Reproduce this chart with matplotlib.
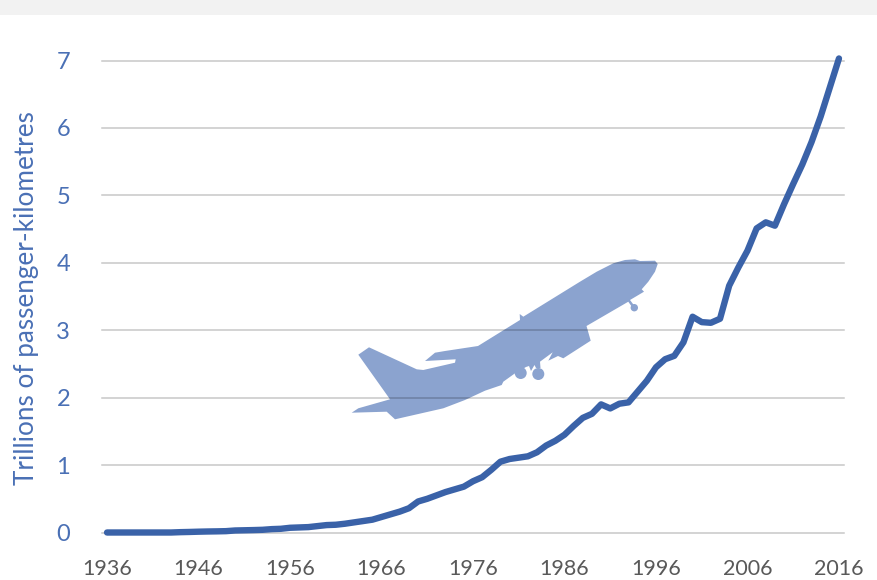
import matplotlib
matplotlib.use("Agg")
import matplotlib.pyplot as plt
from matplotlib.patches import Polygon, Circle, Rectangle

# Passenger-kilometres, trillions
years = list(range(1936, 2017))
values = [
    0.00, 0.00, 0.00, 0.00, 0.00, 0.00, 0.00, 0.00, 0.005, 0.008,
    0.012, 0.015, 0.017, 0.02, 0.03, 0.033, 0.036, 0.04, 0.05, 0.055,
    0.07, 0.075, 0.08, 0.095, 0.11, 0.115, 0.13, 0.15, 0.17, 0.19,
    0.23, 0.27, 0.31, 0.36, 0.46, 0.50, 0.55, 0.60, 0.64, 0.68,
    0.76, 0.82, 0.93, 1.05, 1.09, 1.11, 1.13, 1.19, 1.29, 1.36,
    1.45, 1.58, 1.70, 1.76, 1.90, 1.84, 1.91, 1.93, 2.09, 2.25,
    2.45, 2.57, 2.62, 2.82, 3.20, 3.12, 3.11, 3.17, 3.66, 3.93,
    4.18, 4.51, 4.60, 4.55, 4.87, 5.17, 5.46, 5.79, 6.17, 6.60, 7.03,
]
y_ticks = [0, 1, 2, 3, 4, 5, 6, 7]
x_ticks = list(range(1936, 2017, 10))

# Aeroplane outline in figure pixels (decoration, not data)
plane_outline = [
    (358.3, 354.7), (369, 347.3), (416.7, 369.3), (423.3, 370), (455, 362.7),
    (455.7, 359.3), (425, 361), (435, 352.7), (445, 351), (478, 346),
    (520, 320), (519.7, 314), (523.3, 316.7), (580, 281.7), (596.7, 271.7),
    (613.3, 263.3), (625, 260), (635, 259.3), (640, 261), (655, 260.7),
    (657.7, 264), (655, 271.7), (648.3, 281.7), (641.7, 289.3), (644, 291.7),
    (630, 300), (634.5, 306), (632, 307), (628.3, 301.7), (586.5, 326),
    (590.7, 340.7), (563.3, 358.3), (558, 356), (548.3, 360.7), (552.7, 352.3),
    (540, 361.7), (540.5, 368), (536, 368), (534.5, 365), (531, 371),
    (529, 366), (526, 367), (515, 373.3), (503.3, 381.7), (501.7, 385),
    (485, 390.7), (465, 400), (443.3, 408.3), (395, 419.3), (386.7, 411.7),
    (351.7, 412.7), (358.3, 408.3), (390, 399.3),
]
plane_wheels = [(634.3, 307.7, 3.7), (520.7, 373, 6), (538.3, 374, 6)]

blue = "#3a62a8"
label_blue = "#4a70b5"
plane_col = "#8ba3cf"
plt.rcParams["font.family"] = ["Lato", "DejaVu Sans"]

W, H = 877, 580
fig = plt.figure(figsize=(W / 100, H / 100), dpi=100)

# Pixel layer underneath for the grey band and the plane
bg = fig.add_axes([0, 0, 1, 1], zorder=0)
bg.set_xlim(0, W)
bg.set_ylim(H, 0)
bg.axis("off")
bg.add_patch(Rectangle((0, 0), W, 15, color="#f2f2f2", lw=0))
bg.add_patch(Polygon(plane_outline, closed=True, color=plane_col, lw=0))
for x, y, r in plane_wheels:
    bg.add_patch(Circle((x, y), r, color=plane_col, lw=0))

ax = fig.add_axes([102 / W, 1 - 532.5 / H, 742 / W, 472 / H], zorder=1)
ax.patch.set_alpha(0)
ax.plot(years, values, color=blue, lw=4.6, solid_capstyle="round",
        solid_joinstyle="round", zorder=3, clip_on=False)
ax.set_xlim(1935.45, 2016.55)
ax.set_ylim(0, 7)
ax.set_yticks(y_ticks)
ax.set_xticks(x_ticks)
ax.grid(axis="y", color="black", alpha=0.22, lw=1.1)
ax.set_axisbelow(True)
for spine in ax.spines.values():
    spine.set_visible(False)
ax.tick_params(axis="both", length=0)
ax.tick_params(axis="x", labelsize=15.5, labelcolor="#595959", pad=19)
ax.tick_params(axis="y", labelsize=17, labelcolor=label_blue, pad=23)
for line in ax.get_ygridlines():
    line.set_clip_on(False)

fig.text(27 / W, 1 - 298 / H, "Trillions of passenger-kilometres", rotation=90,
         color=label_blue, fontsize=18.8, ha="center", va="center")

fig.savefig("out.png", dpi=100)
